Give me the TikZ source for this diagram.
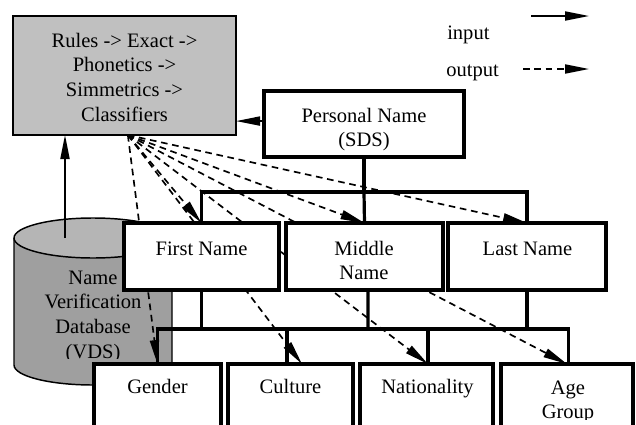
\documentclass[tikz,border=0pt]{standalone}
\usepackage{fontspec}
\setmainfont{Liberation Serif}
\usetikzlibrary{arrows.meta,backgrounds}
\definecolor{boxgray}{HTML}{C0C0C0}
\definecolor{cylbody}{HTML}{9F9F9F}
\definecolor{cyltop}{HTML}{B5B5B5}
\newcommand\fs{\fontsize{15.4pt}{18.5pt}\selectfont}
\begin{document}
\begin{tikzpicture}[x=0.75pt,y=-0.75pt,
  bx/.style={draw, line width=2.5pt, fill=white, inner sep=0pt, outer sep=0pt, anchor=north west},
  tx/.style={inner sep=0pt, align=center, font=\fs, anchor=north},
  br/.style={line width=2.4pt},
  inarr/.style={line width=1.25pt, -{Triangle[length=18pt,width=6.8pt]}},
  outarr/.style={inarr, dash pattern=on 5pt off 3.5pt},
  cyl/.style={line width=1.1pt}]
\useasboundingbox (0,0) rectangle (636,425);
\clip (0,0) rectangle (636,425);

% boxes
\node[bx, fill=boxgray, line width=1.6pt, minimum width=167.25pt, minimum height=89.25pt] (rules) at (13,16) {};
\node[bx, minimum width=150pt, minimum height=49.5pt] (pn) at (264,91) {};
\node[bx, minimum width=116.25pt, minimum height=50.25pt] (fn) at (124,223) {};
\node[bx, minimum width=117.75pt, minimum height=50.25pt] (mn) at (286,223) {};
\node[bx, minimum width=118.5pt, minimum height=50.25pt] (ln) at (448,223) {};
\node[bx, minimum width=95.25pt, minimum height=64.5pt] (gender) at (94,364) {};
\node[bx, minimum width=93.75pt, minimum height=64.5pt] (culture) at (228,364) {};
\node[bx, minimum width=99.75pt, minimum height=64.5pt] (nat) at (360,364) {};
\node[bx, minimum width=99pt, minimum height=64.5pt] (age) at (501,364) {};

% texts
\node[tx] (rulest) at (124.5,29.7) {\strut Rules -> Exact ->\\\strut Phonetics ->\\\strut Simmetrics ->\\\strut Classifiers};
\node[tx] (pnt) at (364,104.7) {\strut Personal Name\\\strut (SDS)};
\node[tx] (fnt) at (201.5,237.7) {\strut First Name};
\node[tx] (mnt) at (364,237.7) {\strut Middle\\\strut Name};
\node[tx] (lnt) at (527.5,237.7) {\strut Last Name};
\node[tx] (gendert) at (157.5,375.7) {\strut Gender};
\node[tx] (culturet) at (290.5,375.7) {\strut Culture};
\node[tx] (natt) at (427.5,375.7) {\strut Nationality};
\begin{scope}
  \clip (500,370) rectangle (636,419);
  \node[tx] (aget) at (568,376.5) {\strut Age\\\strut Group};
\end{scope}
\begin{scope}
  \clip (0,200) rectangle (180,358);
  \node[tx] (vdst) at (93,266.7) {\strut Name\\\strut Verification\\\strut Database\\\strut (VDS)};
\end{scope}

% legend
\node[font=\fs, inner sep=0pt, anchor=base west] (lin) at (447,39) {input};
\node[font=\fs, inner sep=0pt, anchor=base west] (lout) at (446,76) {output};
\coordinate (li1) at (531,16);
\coordinate (li2) at (589,16);
\coordinate (lo1) at (523,69);
\coordinate (lo2) at (589,69);
\draw[inarr] (li1) -- (li2);
\draw[outarr] (lo1) -- (lo2);

\begin{scope}[on background layer]
  % cylinder
  \fill[cylbody] (14,238) -- (14,365) arc[start angle=180, end angle=0, x radius=79, y radius=20] -- (172,238) -- cycle;
  \draw[cyl] (14,238) -- (14,365) arc[start angle=180, end angle=0, x radius=79, y radius=20] -- (172,238);
  \draw[cyl, fill=cyltop] (93,238) ellipse[x radius=79, y radius=20];
  \coordinate (vdstop) at (65,238);

  % solid inputs
  \draw[inarr] (vdstop) -- (vdstop |- rules.south);
  \draw[inarr] ([yshift=2.2pt]pn.west) -- ([yshift=2.2pt]pn.west -| rules.east);

  % tree brackets
  \coordinate (b1) at (364,192);
  \draw[br] (pn.south) -- (b1);
  \draw[br] (fn.north) -- (fn.north |- b1) -- (ln.north |- b1) -- (ln.north);
  \draw[br] (b1) -- (mn.north);
  \coordinate (b2) at (368,329);
  \draw[br] (fn.south) -- (fn.south |- b2);
  \draw[br] (ln.south) -- (ln.south |- b2);
  \draw[br] ([xshift=2.6pt]mn.south) -- (b2);
  \draw[br] (gender.north) -- (gender.north |- b2) -- ([xshift=0.9pt]age.north |- b2) -- ([xshift=0.9pt]age.north);
  \draw[br] ([xshift=-2.6pt]culture.north) -- ([xshift=-2.6pt]culture.north |- b2);
  \draw[br] ([xshift=1.1pt]nat.north) -- ([xshift=1.1pt]nat.north |- b2);

  % dashed outputs
  \coordinate (o) at ([xshift=2.5pt]rules.south);
  \draw[outarr] (o) -- (gender.north);
  \draw[outarr] (o) -- (fn.north);
  \draw[outarr] (o) -- ([xshift=8.6pt]culture.north);
  \draw[outarr] (o) -- (mn.north);
  \draw[outarr] (o) -- ([xshift=1.1pt]nat.north);
  \draw[outarr] (o) -- (ln.north);
  \draw[outarr] (o) -- (age.north);
\end{scope}
\end{tikzpicture}
\end{document}
